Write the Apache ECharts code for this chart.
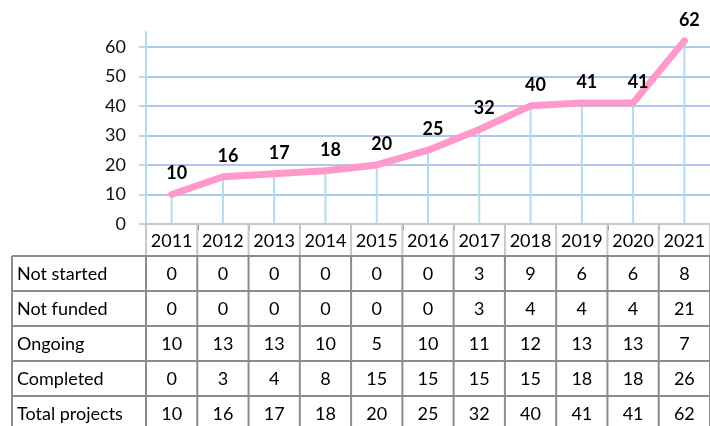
<!DOCTYPE html>
<html>
<head>
<meta charset="utf-8">
<script src="https://cdn.jsdelivr.net/npm/echarts@6/dist/echarts.min.js"></script>
<style>
  html, body { margin: 0; padding: 0; background: #fff; }
  #main { width: 710px; height: 426px; }
</style>
</head>
<body>
<div id="main"></div>
<script>
// data
const years = ['2011', '2012', '2013', '2014', '2015', '2016', '2017', '2018', '2019', '2020', '2021'];
const notStarted = [0, 0, 0, 0, 0, 0, 3, 9, 6, 6, 8];
const notFunded = [0, 0, 0, 0, 0, 0, 3, 4, 4, 4, 21];
const ongoing = [10, 13, 13, 10, 5, 10, 11, 12, 13, 13, 7];
const completed = [0, 3, 4, 8, 15, 15, 15, 15, 18, 18, 26];
const totalProjects = [10, 16, 17, 18, 20, 25, 32, 40, 41, 41, 62];
const yTicks = [0, 10, 20, 30, 40, 50, 60];

const tableRows = [
  { name: 'Not started', values: notStarted },
  { name: 'Not funded', values: notFunded },
  { name: 'Ongoing', values: ongoing },
  { name: 'Completed', values: completed },
  { name: 'Total projects', values: totalProjects }
];

const FONT = 'Lato';
const chart = echarts.init(document.getElementById('main'));

chart.setOption({
  animation: false,
  grid: { left: 146, right: 0, top: 32, bottom: 202 },
  xAxis: {
    type: 'category',
    data: years,
    boundaryGap: true,
    axisLine: { lineStyle: { color: '#8c8c8c', width: 2 } },
    axisTick: { show: true, length: 6, lineStyle: { color: '#8c8c8c', width: 2 } },
    axisLabel: { show: false }
  },
  yAxis: {
    type: 'value',
    min: 0,
    max: 65,
    interval: 10,
    axisLine: { show: true, lineStyle: { color: '#b3dce9', width: 2 } },
    axisTick: { show: true, length: 7, customValues: yTicks, lineStyle: { color: '#b3dce9', width: 2 } },
    axisLabel: {
      customValues: yTicks,
      margin: 20,
      fontFamily: FONT,
      fontSize: 18,
      color: '#111'
    },
    splitLine: { lineStyle: { color: '#b0c6ec', width: 2 } }
  },
  series: [
    {
      // drop lines from each point to the axis
      type: 'bar',
      data: totalProjects,
      barWidth: 2,
      clip: false,
      itemStyle: { color: '#b3dce9' },
      z: 1
    },
    {
      type: 'line',
      data: totalProjects,
      symbol: 'circle',
      symbolSize: 4,
      showSymbol: true,
      itemStyle: { color: '#ff99cc' },
      clip: false,
      lineStyle: { color: '#ff99cc', width: 7, cap: 'round', join: 'round' },
      label: {
        show: true,
        position: 'top',
        distance: 10,
        offset: [5, 0],
        fontFamily: FONT,
        fontWeight: 'bold',
        fontSize: 18,
        color: '#000'
      },
      z: 3
    }
  ]
});

// data table under the chart, aligned to the category bands
function drawTable() {
  const centers = years.map(y => chart.convertToPixel({ xAxisIndex: 0 }, y));
  const band = centers.length > 1 ? centers[1] - centers[0] : 50;
  const x0 = centers[0] - band / 2;
  const x1 = centers[centers.length - 1] + band / 2;
  const leftX = 12;
  const headTop = 224;
  const headBottom = 256;
  const rowH = 35;
  const lineColor = '#8c8c8c';
  const headColor = '#c8c8c8';
  const els = [];

  // header row
  els.push({ type: 'line', shape: { x1: x0, y1: headTop, x2: x1, y2: headTop }, style: { stroke: headColor, lineWidth: 2 } });
  for (let i = 0; i <= years.length; i++) {
    const x = x0 + i * band;
    els.push({ type: 'line', shape: { x1: x, y1: headTop, x2: x, y2: headBottom }, style: { stroke: headColor, lineWidth: 2 } });
  }
  years.forEach((y, i) => {
    els.push({
      type: 'text',
      style: { text: y, x: centers[i], y: (headTop + headBottom) / 2 + 1, align: 'center', verticalAlign: 'middle', fontFamily: FONT, fontSize: 18, fill: '#000' }
    });
  });

  // body rows
  const bodyBottom = headBottom + tableRows.length * rowH;
  for (let r = 0; r <= tableRows.length; r++) {
    const y = headBottom + r * rowH;
    els.push({ type: 'line', shape: { x1: leftX, y1: y, x2: x1, y2: y }, style: { stroke: lineColor, lineWidth: 2 } });
  }
  els.push({ type: 'line', shape: { x1: leftX, y1: headBottom, x2: leftX, y2: bodyBottom }, style: { stroke: lineColor, lineWidth: 2 } });
  for (let i = 0; i <= years.length; i++) {
    const x = x0 + i * band;
    els.push({ type: 'line', shape: { x1: x, y1: headBottom, x2: x, y2: bodyBottom }, style: { stroke: lineColor, lineWidth: 2 } });
  }
  tableRows.forEach((row, r) => {
    const cy = headBottom + r * rowH + rowH / 2 + 1;
    els.push({
      type: 'text',
      style: { text: row.name, x: leftX + 5, y: cy, align: 'left', verticalAlign: 'middle', fontFamily: FONT, fontSize: 18, fill: '#000' }
    });
    row.values.forEach((v, i) => {
      els.push({
        type: 'text',
        style: { text: String(v), x: centers[i], y: cy, align: 'center', verticalAlign: 'middle', fontFamily: FONT, fontSize: 18, fill: '#000' }
      });
    });
  });

  chart.setOption({ graphic: { elements: els.map(e => Object.assign({ silent: true, z: 10 }, e)) } });
}

drawTable();
</script>
</body>
</html>
